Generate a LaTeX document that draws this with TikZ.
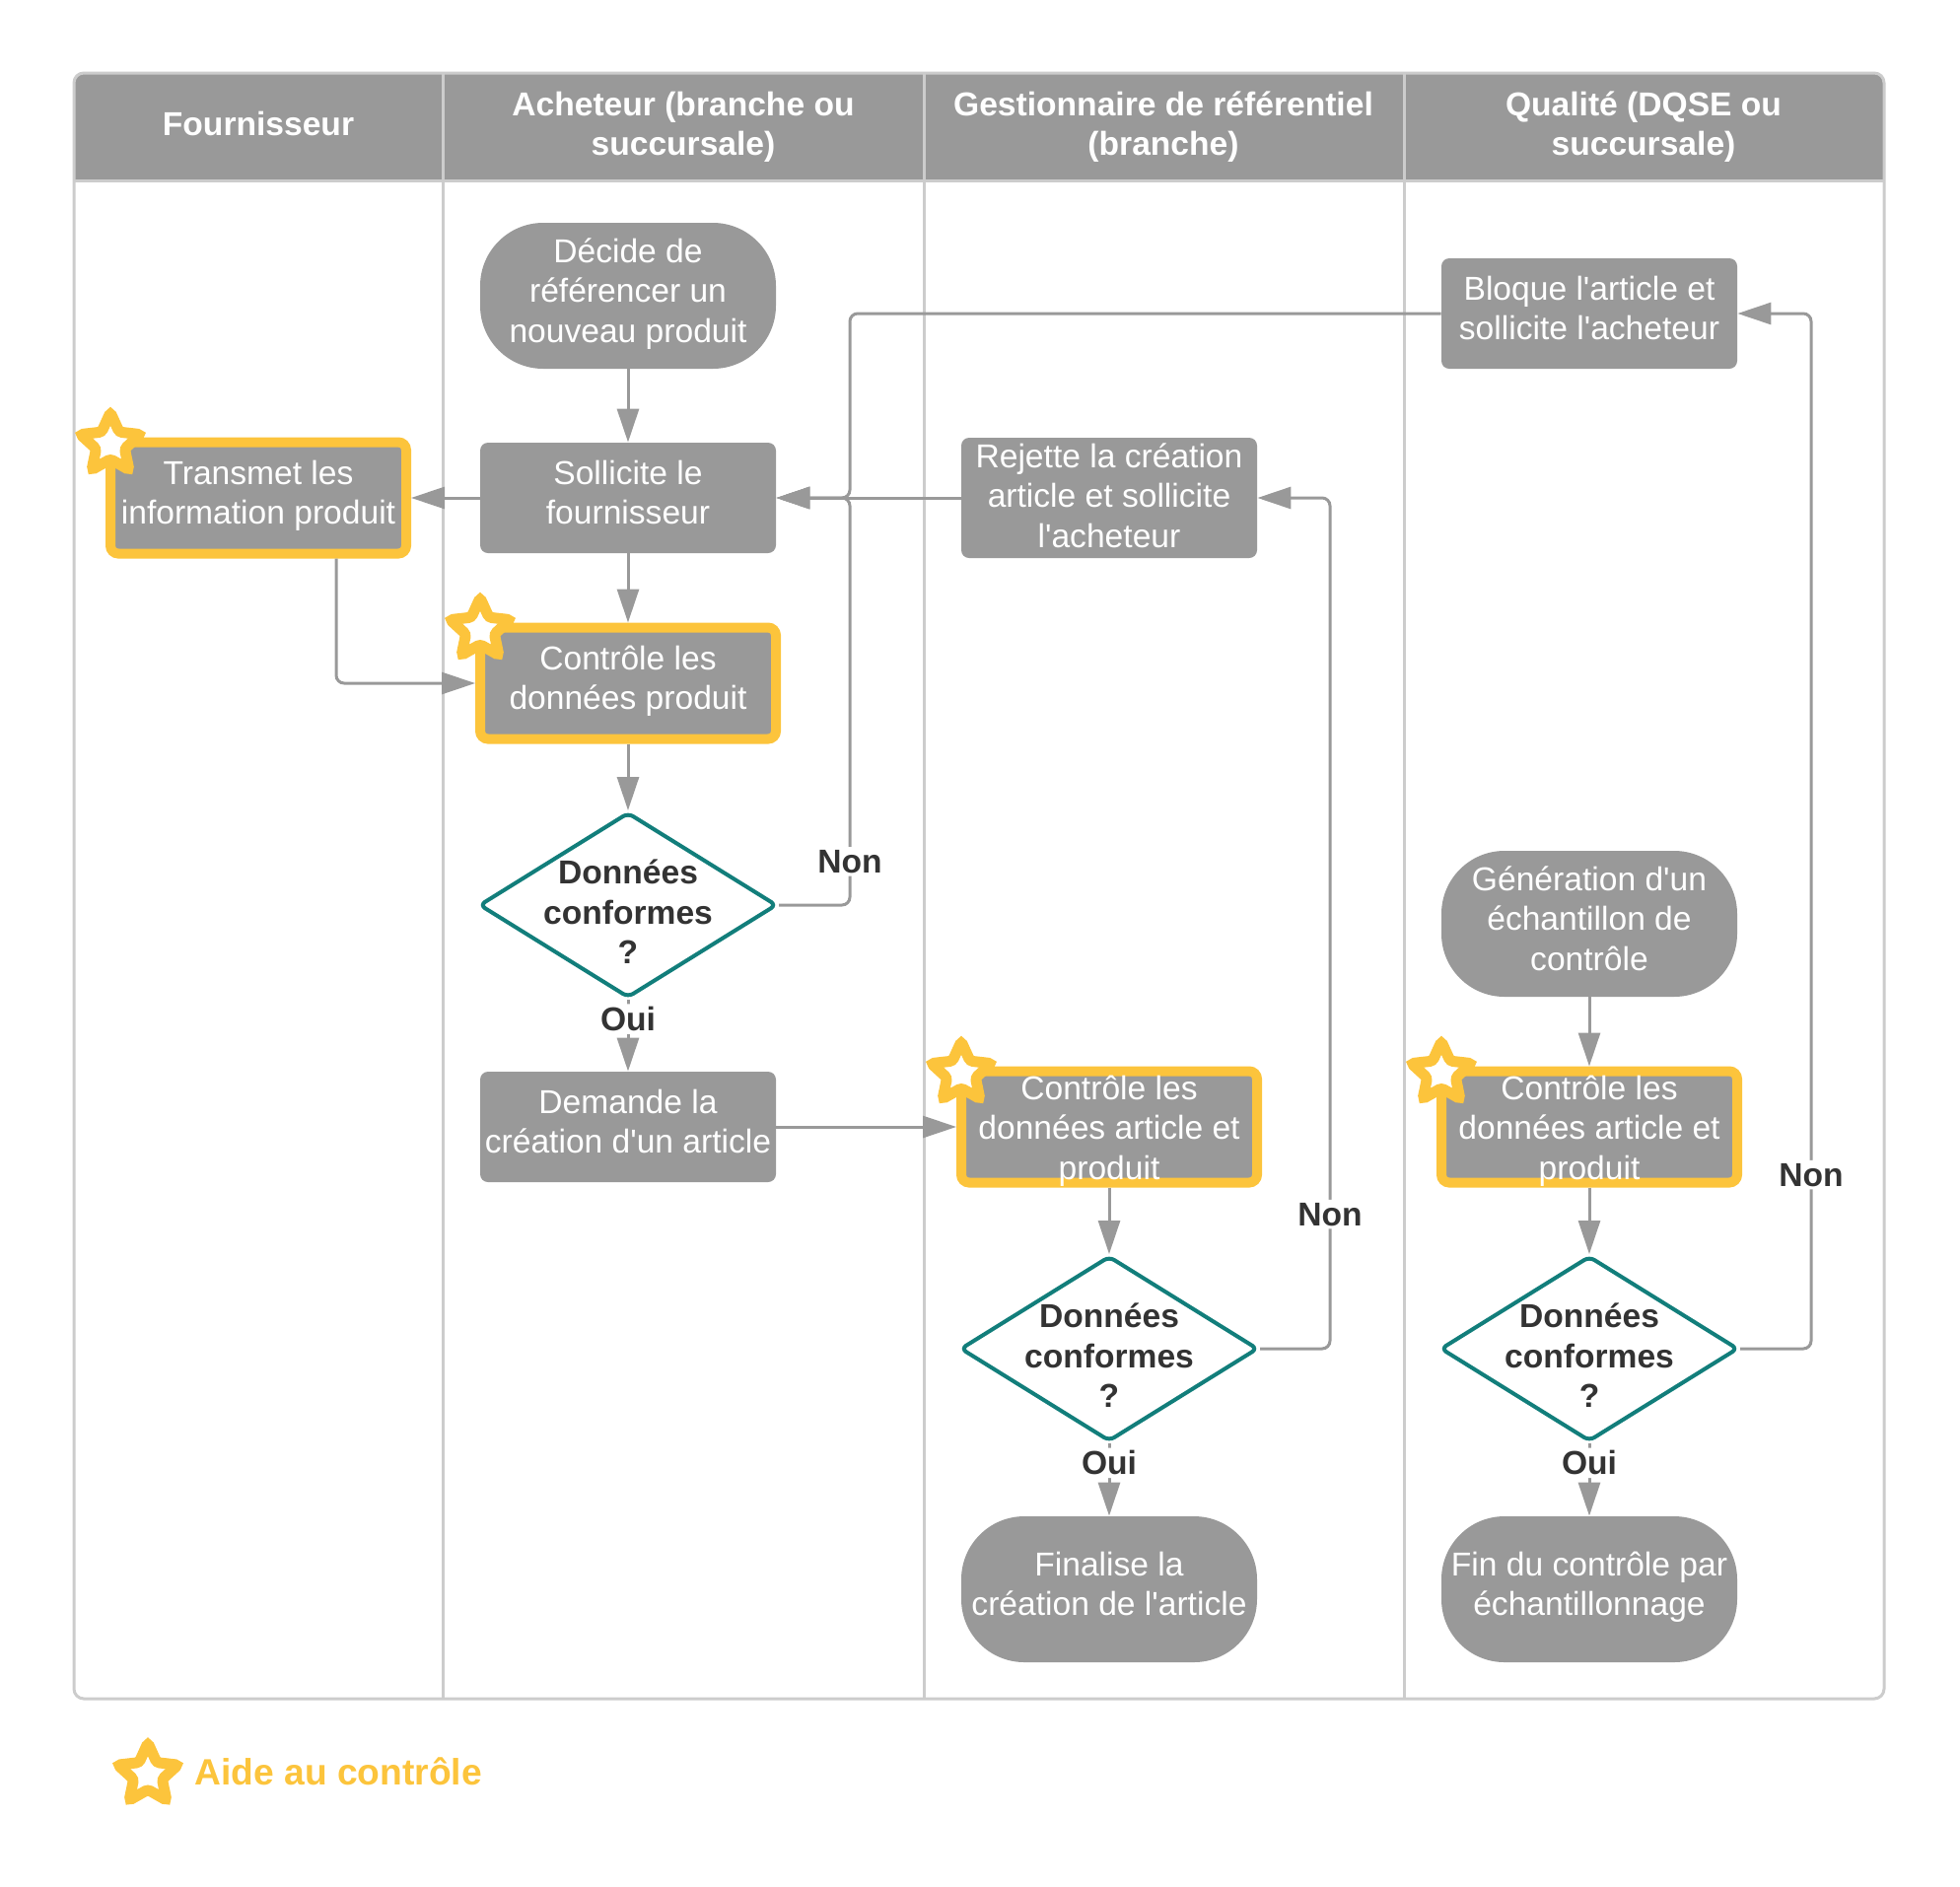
\documentclass[tikz,border=0pt]{standalone}
\usepackage{fontspec}
\setmainfont{Liberation Sans}
\usetikzlibrary{shapes.geometric,arrows.meta}

\definecolor{boxgray}{HTML}{999999}
\definecolor{lanegray}{HTML}{CCCCCC}
\definecolor{decteal}{HTML}{127E7B}
\definecolor{aideyellow}{HTML}{FCC43C}
\definecolor{labeldark}{HTML}{333333}

\newcommand{\ap}{\textquotesingle}
% struts so that text lines sit the same way in every box
\def\tbtop{16.15pt}
\def\tbdepth{5.75pt}
\newcommand{\topstrut}{\rule{0pt}{\tbtop}}
\newcommand{\botstrut}{\rule[-\tbdepth]{0pt}{1pt}}

\tikzset{
  lane/.style={draw=lanegray, line width=1.5pt},
  head/.style={font=\fontsize{16.8}{20}\selectfont\bfseries, text=white, align=center, inner sep=0pt},
  struts/.code 2 args={\def\tbtop{#1}\def\tbdepth{#2}},
  process/.style={font=\fontsize{16.8}{20.3}\selectfont, rectangle, rounded corners=4pt, fill=boxgray,
    text=white, align=center, minimum width=150pt, minimum height=56pt, inner sep=0pt,
    execute at begin node=\topstrut, execute at end node=\botstrut},
  terminal/.style={process, rounded corners=32pt, minimum height=74pt},
  aide/.style={process, draw=aideyellow, line width=5pt, minimum height=56.5pt},
  decision/.style={diamond, draw=decteal, line width=2pt, fill=white, rounded corners=3pt,
    minimum width=151pt, minimum height=94pt, inner sep=0pt},
  dectext/.style={font=\fontsize{16.8}{20.3}\selectfont\bfseries, text=labeldark, align=center, yshift=-3.5pt},
  lbl/.style={font=\fontsize{16.8}{20}\selectfont\bfseries, text=labeldark, fill=white, inner sep=1.5pt},
  flow/.style={draw=boxgray, line width=1.5pt, rounded corners=4pt, -{Triangle[length=17pt,width=11pt]}},
  aidestar/.style={star, star points=5, star point ratio=2.1, minimum size=32pt, inner sep=0pt,
    draw=aideyellow, fill=white, line width=5.5pt, rounded corners=1.5pt},
  legtxt/.style={font=\fontsize{18.6}{22}\selectfont\bfseries, text=aideyellow, inner sep=0pt}
}

\begin{document}
\begin{tikzpicture}[x=0.5pt,y=-0.5pt]
  \useasboundingbox (0,0) rectangle (1988,1913);

  % swimlanes
  \begin{scope}
    \clip[rounded corners=5pt] (75,74) rectangle (1911,1723);
    \fill[boxgray] (75,74) rectangle (1911,183);
  \end{scope}
  \draw[lane] (75,183) -- (1911,183);
  \foreach \x in {449,937,1424} \draw[lane] (\x,74) -- (\x,1723);
  \draw[lane, rounded corners=5pt] (75,74) rectangle (1911,1723);

  \node[head] (h1) at (262,125) {Fournisseur};
  \node[head] (h2) at (693,129) {Acheteur (branche ou\\succursale)};
  \node[head] (h3) at (1180,129) {Gestionnaire de référentiel\\(branche)};
  \node[head] (h4) at (1667,129) {Qualité (DQSE ou\\succursale)};

  % acheteur / fournisseur
  \node[terminal] (dec) at (637,300) {Décide de\\référencer un\\nouveau produit};
  \node[process] (sol) at (637,505) {Sollicite le\\fournisseur};
  \node[aide] (tr) at (262,505) {Transmet les\\information produit};
  \node[aide] (cp) at (637,693) {Contrôle les\\données produit};
  \node[decision, label={[dectext]center:Données\\conformes\\?}] (d1) at (637,918) {};
  \node[process] (dem) at (637,1143) {Demande la\\création d\ap un article};

  % gestionnaire
  \node[process, minimum height=61pt, struts={16.15pt}{2.75pt}] (rej) at (1125,505) {Rejette la création\\article et sollicite\\l\ap acheteur};
  \node[aide, inner ysep=-3pt, struts={57.5pt}{4.15pt}] (ca) at (1125,1143) {Contrôle les\\données article et\\produit};
  \node[decision, label={[dectext]center:Données\\conformes\\?}] (d2) at (1125,1368) {};
  \node[terminal] (fin) at (1125,1612) {Finalise la\\création de l\ap article};

  % qualite
  \node[process] (blq) at (1612,318) {Bloque l\ap article et\\sollicite l\ap acheteur};
  \node[terminal] (gen) at (1612,937) {Génération d\ap un\\échantillon de\\contrôle};
  \node[aide, inner ysep=-3pt, struts={57.5pt}{4.15pt}] (cq) at (1612,1143) {Contrôle les\\données article et\\produit};
  \node[decision, label={[dectext]center:Données\\conformes\\?}] (d3) at (1612,1368) {};
  \node[terminal] (ech) at (1612,1612) {Fin du contrôle par\\échantillonnage};

  \coordinate (jT) at (341,0);
  \coordinate (jA) at (862,0);
  \coordinate (jB) at (1349,0);
  \coordinate (jC) at (1837,0);

  % connectors
  \draw[flow] (dec.south) -- (sol.north);
  \draw[flow] (sol.west) -- (tr.east);
  \draw[flow] (tr.south -| jT) |- (cp.west);
  \draw[flow] (sol.south) -- (cp.north);
  \draw[flow] (cp.south) -- (d1.north);
  \draw[flow] (d1.south) -- node[lbl,pos=0.27]{Oui} (dem.north);
  \draw[flow] (d1.east) -- (d1.east -| jA) -- node[lbl,pos=0.107]{Non} (sol.east -| jA) -- (sol.east);
  \draw[flow] (blq.west) -- (blq.west -| jA) -- (sol.east -| jA) -- (sol.east);
  \draw[flow] (rej.west) -- (sol.east);
  \draw[flow] (dem.east) -- (ca.west);
  \draw[flow] (ca.south) -- (d2.north);
  \draw[flow] (d2.south) -- node[lbl,pos=0.27]{Oui} (fin.north);
  \draw[flow] (d2.east) -- (d2.east -| jB) -- node[lbl,pos=0.158]{Non} (rej.east -| jB) -- (rej.east);
  \draw[flow] (gen.south) -- (cq.north);
  \draw[flow] (cq.south) -- (d3.north);
  \draw[flow] (d3.south) -- node[lbl,pos=0.27]{Oui} (ech.north);
  \draw[flow] (d3.east) -- (d3.east -| jC) -- node[lbl,pos=0.168]{Non} (blq.east -| jC) -- (blq.east);

  % aide au controle
  \foreach \b in {tr,cp,ca,cq} \node[aidestar] at ([shift={(5,7)}]\b.north west) {};
  \node[aidestar] (leg) at (150,1800) {};
  \node[legtxt, anchor=west] (legt) at (197,1797) {Aide au contrôle};
\end{tikzpicture}
\end{document}
